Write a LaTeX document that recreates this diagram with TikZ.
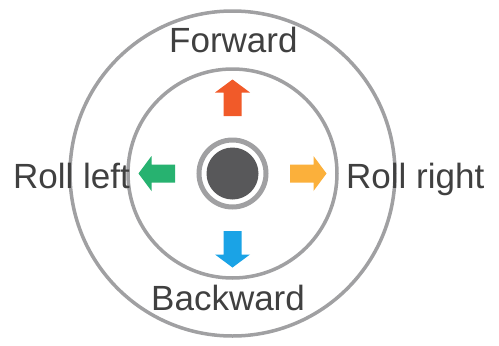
\documentclass[tikz,border=0pt]{standalone}
\usepackage{fontspec}
\setmainfont{Liberation Sans}
\begin{document}
\begin{tikzpicture}[x=1pt,y=-1pt,
  ring/.style={draw=ringgray,line width=3.5pt},
  label/.style={inner sep=0pt,anchor=base west,text=textgray,font=\fontsize{35}{40}\selectfont},
  dirarrow/.style={fill=#1,draw=none}]
\definecolor{ringgray}{HTML}{A0A0A2}
\definecolor{textgray}{HTML}{404040}
\definecolor{knob}{HTML}{58585A}
\definecolor{arrorange}{HTML}{F15A29}
\definecolor{arryellow}{HTML}{FBB03B}
\definecolor{arrgreen}{HTML}{27B270}
\definecolor{arrblue}{HTML}{1AA3E6}
\useasboundingbox[fill=white] (0,0) rectangle (499,346);
\coordinate (c) at (232.5,173.5);
\draw[ring] (c) circle[radius=162.5pt];
\draw[ring] (c) circle[radius=104.5pt];
\draw[draw=ringgray,line width=5pt] (c) circle[radius=33.5pt];
\fill[knob] (c) circle[radius=26pt];
% arrows: local frame pointing along +x
\foreach \ang/\col in {90/arrorange, 0/arryellow, 180/arrgreen, -90/arrblue}{
  \begin{scope}[shift={(c)},rotate=\ang]
    \fill[\col] (57.5,-9) -- (81,-9) -- (81,-17.5) -- (94,0) -- (81,17.5) -- (81,9) -- (57.5,9) -- cycle;
  \end{scope}
}
\node[label] (fwd) at (169,52) {Forward};
\node[label] (bwd) at (151,310) {Backward};
\node[label] (rl) at (13,188) {Roll left};
\node[label] (rr) at (346,188) {Roll right};
\end{tikzpicture}
\end{document}
